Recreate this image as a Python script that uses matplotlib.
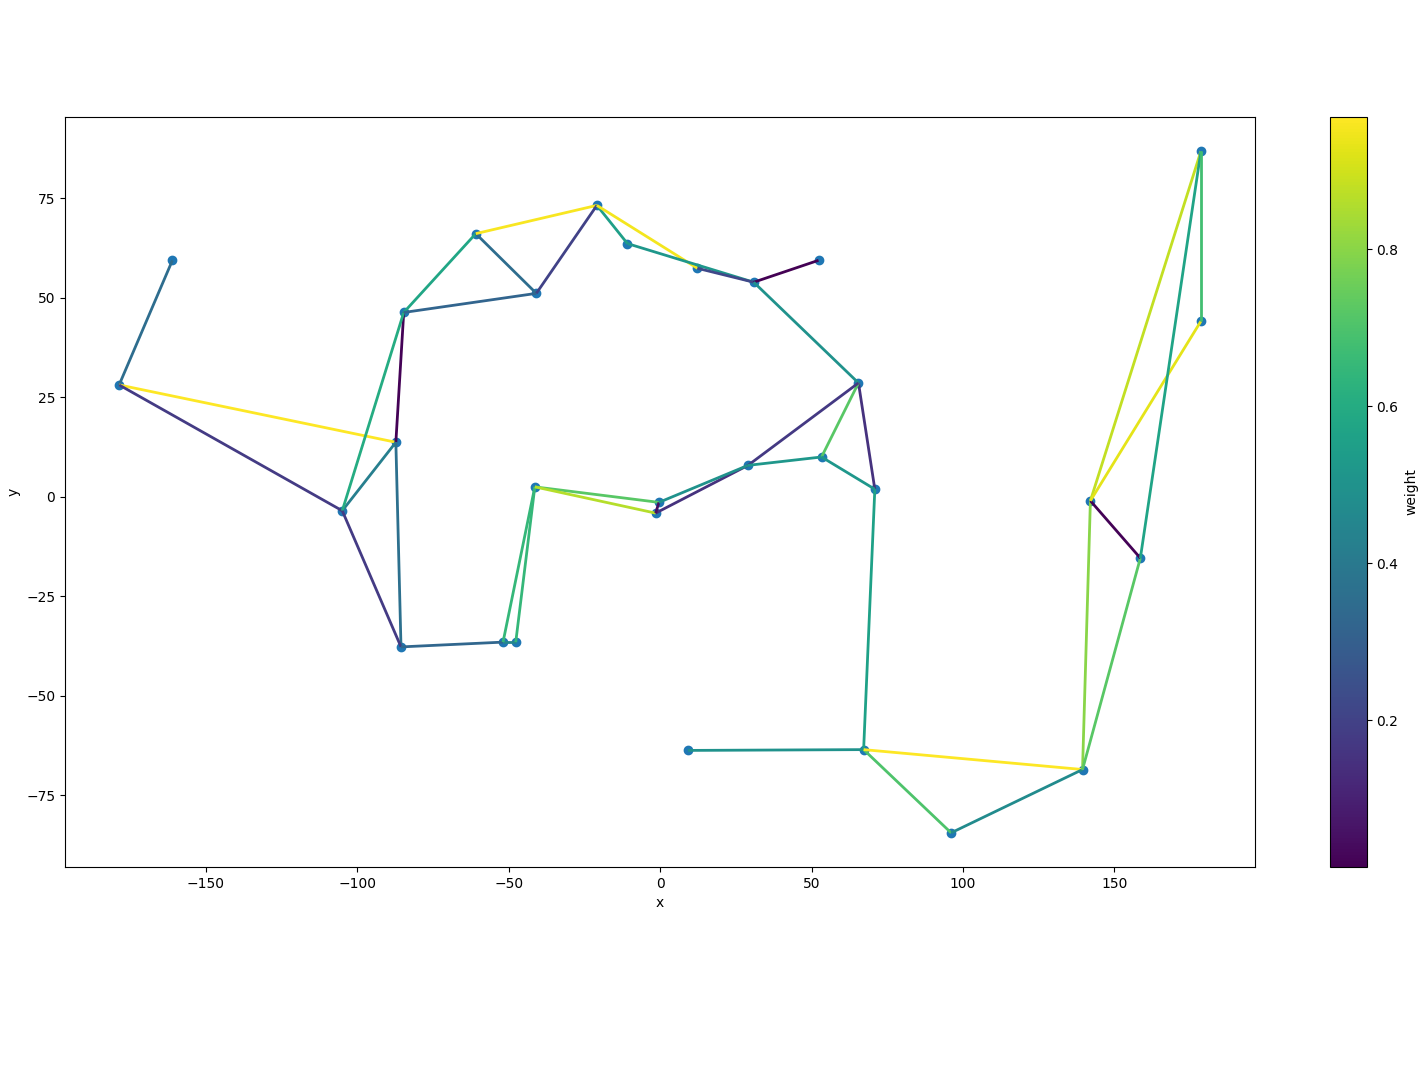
import numpy as np
import matplotlib
matplotlib.use('Agg')
import matplotlib.pyplot as plt
from matplotlib.collections import LineCollection

# Node positions (x, y)
node_x = [-161.1, -178.7, -87.3, -84.7, -105.0, -85.6, -51.9, -47.7, -41.4, -60.9,
          -40.9, -20.9, -10.8, 12.3, 30.9, 52.3, 65.5, 70.9, 53.3, 29.0,
          -0.4, -1.5, 67.2, 9.2, 96.1, 139.5, 142.1, 158.6, 178.6, 178.6]
node_y = [59.4, 28.1, 13.7, 46.3, -3.5, -37.7, -36.5, -36.5, 2.5, 66.1,
          51.1, 73.2, 63.6, 57.4, 53.9, 59.4, 28.6, 1.9, 10.0, 7.9,
          -1.4, -4.1, -63.5, -63.7, -84.4, -68.5, -1.0, -15.4, 86.8, 44.1]

# Edges (1-based node ids) and their weights
edge_src = [1, 2, 2, 3, 3, 3, 4, 4, 4, 5, 6, 7, 7, 8, 9, 9, 10, 10, 11, 12, 12, 13, 14,
            15, 15, 17, 17, 17, 20, 21, 20, 19, 18, 18, 23, 23, 23, 25, 26, 26, 27, 27,
            27, 28, 29]
edge_dst = [2, 3, 5, 4, 5, 6, 5, 10, 11, 6, 7, 8, 9, 9, 21, 22, 11, 12, 12, 13, 14, 15, 15,
            16, 17, 18, 19, 20, 22, 22, 21, 20, 19, 23, 24, 25, 26, 26, 27, 28, 28, 29,
            30, 29, 30]
weights = [0.35, 0.968, 0.18, 0.02, 0.42, 0.36, 0.6, 0.58, 0.32, 0.18, 0.33, 0.45, 0.65,
           0.65, 0.72, 0.86, 0.35, 0.96, 0.2, 0.55, 0.95, 0.52, 0.22, 0.013, 0.5, 0.15,
           0.72, 0.17, 0.15, 0.05, 0.5, 0.52, 0.52, 0.56, 0.5, 0.7, 0.968, 0.47, 0.8,
           0.72, 0.02, 0.88, 0.93, 0.57, 0.68]

node_x = np.array(node_x)
node_y = np.array(node_y)
segs = [[(node_x[a - 1], node_y[a - 1]), (node_x[b - 1], node_y[b - 1])]
        for a, b in zip(edge_src, edge_dst)]

fig = plt.figure(figsize=(14.2, 10.65), dpi=100)
ax = fig.add_axes([0.0458, 0.186, 0.838, 0.704])
cax = fig.add_axes([0.9366, 0.186, 0.026, 0.704])

ax.scatter(node_x, node_y)
lc = LineCollection(segs, cmap='viridis', linewidths=2)
lc.set_array(np.array(weights))
ax.add_collection(lc)
ax.autoscale()
ax.set_xlabel('x')
ax.set_ylabel('y')

fig.colorbar(lc, cax=cax, label='weight')

fig.savefig('out.png')
